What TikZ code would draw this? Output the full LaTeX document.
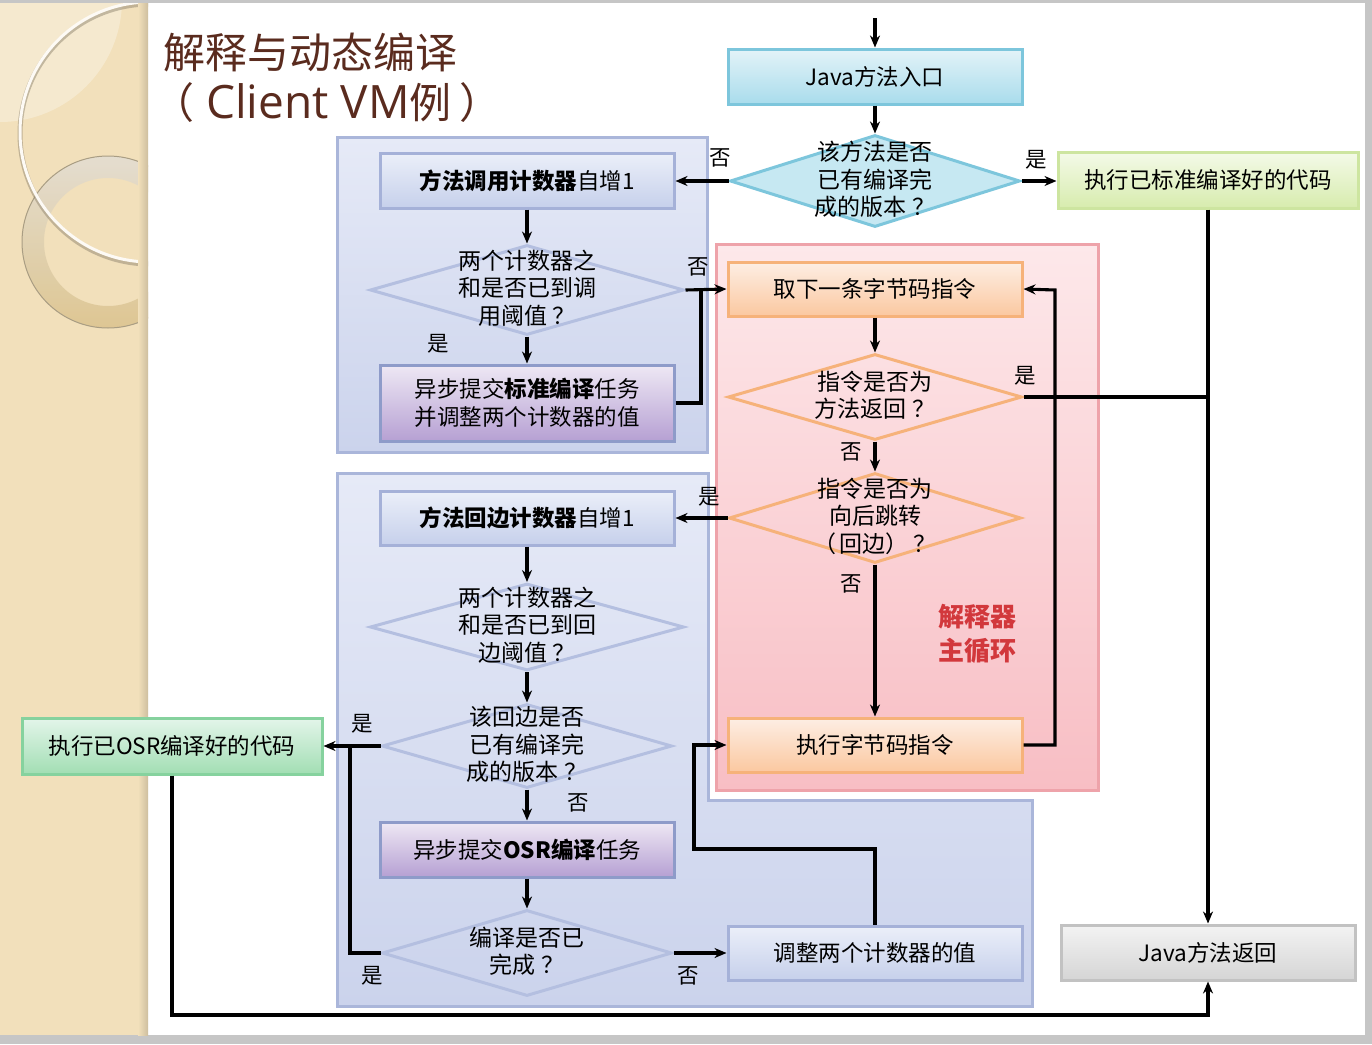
\documentclass[tikz,border=0pt]{standalone}
\usepackage{fontspec}
\setmainfont{Noto Sans CJK SC}
\newfontfamily\latinfont{Open Sans}
\usetikzlibrary{shapes.geometric,arrows.meta}
\definecolor{beige}{HTML}{F2E0BB}
\definecolor{ringtop}{HTML}{E3DDD2}
\definecolor{ringbot}{HTML}{DCC48F}
\definecolor{titlec}{HTML}{5A2B1E}
\definecolor{redt}{HTML}{D2383C}
\definecolor{pantop}{HTML}{E6EAF7}
\definecolor{panbot}{HTML}{CBD3EC}
\definecolor{panbord}{HTML}{AAB6DA}
\definecolor{btop}{HTML}{EBEFF9}
\definecolor{bbot}{HTML}{C6D0EB}
\definecolor{bbord}{HTML}{A5B1D8}
\definecolor{ptop}{HTML}{EEE8F4}
\definecolor{pbot}{HTML}{B6A0D3}
\definecolor{pbord}{HTML}{8E9BC9}
\definecolor{ctop}{HTML}{E3F3F8}
\definecolor{cbot}{HTML}{A9DCEC}
\definecolor{cbord}{HTML}{7DC6DC}
\definecolor{cdia}{HTML}{C6E8F2}
\definecolor{gtop}{HTML}{F4FAE8}
\definecolor{gbot}{HTML}{D7ECAE}
\definecolor{gbord}{HTML}{CDE5A0}
\definecolor{otop}{HTML}{E3F5EA}
\definecolor{obot}{HTML}{A2DEB3}
\definecolor{obord}{HTML}{86D29E}
\definecolor{pktop}{HTML}{FDE8EA}
\definecolor{pkbot}{HTML}{F8BEC4}
\definecolor{pkbord}{HTML}{EEA3AA}
\definecolor{ortop}{HTML}{FDEEE4}
\definecolor{orbot}{HTML}{FBC8A0}
\definecolor{orbord}{HTML}{F6B27A}
\definecolor{ddia}{HTML}{B4BFE0}
\definecolor{grtop}{HTML}{F3F3F3}
\definecolor{grbot}{HTML}{D5D5D5}
\definecolor{grbord}{HTML}{C2C2C2}
\newcommand\dtext[1]{\smash{\makebox[0pt]{\raisebox{-7.5pt}{\begin{tabular}{@{}c@{}}#1\end{tabular}}}}}
\newcommand\qm{\hspace{0.22em}？}
\tikzset{
  arr/.style={line width=3.1pt,-{Stealth[length=12pt,width=10pt]}},
  ln/.style={line width=3.1pt},
  box/.style={rectangle, line width=3pt, minimum width=294pt, minimum height=55pt,
    inner sep=0pt, font=\fontsize{22.5}{28}\selectfont, align=center},
  bluebox/.style={box, draw=bbord, top color=btop, bottom color=bbot},
  purpbox/.style={box, draw=pbord, top color=ptop, bottom color=pbot},
  orbox/.style={box, draw=orbord, top color=ortop, bottom color=orbot},
  dia/.style={diamond, line width=3pt, inner sep=0pt, font=\fontsize{23}{27}\selectfont},
  bdia/.style={dia, draw=ddia},
  odia/.style={dia, draw=orbord},
  lbl/.style={font=\fontsize{21.5}{24}\selectfont, inner sep=0pt},
  panel/.style={line width=3pt},
}
\begin{document}
\begin{tikzpicture}[x=1pt,y=-1pt]
\useasboundingbox (0,0) rectangle (1372,1044);
% slide background
\fill[gray!45] (0,0) rectangle (1372,1044);
\fill[white] (0,3) rectangle (1365,1035);
\fill[beige] (0,3) rectangle (148,1035);
\begin{scope}
  \clip (0,3) rectangle (148,1035);
  \fill[white,opacity=0.3] (0,0) circle (122);
  \shade[even odd rule, top color=ringtop, bottom color=ringbot, opacity=0.9]
    (108,242) circle (86) (108,242) circle (64);
  \draw[line width=1pt, color=black!30!beige] (108,242) circle (86);
  \draw[line width=5pt, color=black!40!beige, opacity=0.5] (150,134) circle (130);
  \draw[line width=3pt, color=white!85!beige] (150,132) circle (130);
  \shade[left color=beige, right color=black!15!beige] (138,3) rectangle (148,1035);
\end{scope}
% title
\node[anchor=west, text=titlec, font=\fontsize{42}{48}\selectfont, inner sep=0pt] (t1) at (163,52) {解释与动态编译};
\node[anchor=west, text=titlec, font=\fontsize{42}{48}\selectfont, inner sep=0pt] (t2) at (152,103) {（\hspace{12pt}{\latinfont\fontsize{46}{48}\selectfont Client VM}例\hspace{8pt}）};
% panels
\draw[panel, draw=panbord, top color=pantop, bottom color=panbot] (337,137) rectangle (707,452);
\draw[panel, draw=pkbord, top color=pktop, bottom color=pkbot] (716,244) rectangle (1098,790);
\draw[panel, draw=panbord, top color=pantop, bottom color=panbot]
  (337,473) -- (708,473) -- (708,800) -- (1032,800) -- (1032,1006) -- (337,1006) -- cycle;
\node[text=redt, font=\bfseries\fontsize{26}{34}\selectfont, align=center, inner sep=0pt] (main) at (977,634) {解释器\\主循环};
% coordinates
\coordinate (top) at (875,18);
\coordinate (j1) at (350,746);
\coordinate (k1) at (694,849);
\coordinate (k2) at (1055,290);
\coordinate (k3) at (701,290);
\coordinate (bot) at (1208,1015);
% nodes
\node[box, draw=cbord, top color=ctop, bottom color=cbot] (entry) at (875,76.5) {Java方法入口};
\node[dia, draw=cbord, fill=cdia, minimum width=290pt, minimum height=92pt] (d1) at (875,181) {\dtext{该方法是否\\已有编译完\\成的版本\qm}};
\node[box, draw=gbord, top color=gtop, bottom color=gbot, minimum width=300pt, minimum height=56pt] (g1) at (1208,180) {执行已标准编译好的代码};
\node[bluebox] (c1) at (527,180.5) {\textbf{方法调用计数器}自增1};
\node[bdia, minimum width=314pt, minimum height=90pt] (d2) at (527,290) {\dtext{两个计数器之\\和是否已到调\\用阈值\qm}};
\node[purpbox, minimum height=76pt] (b2) at (527,403) {异步提交\textbf{标准编译}任务\\并调整两个计数器的值};
\node[orbox, minimum height=54pt] (fetch) at (875,289) {取下一条字节码指令};
\node[odia, minimum width=294pt, minimum height=86pt] (d3) at (875,397) {\dtext{指令是否为\\方法返回\qm}};
\node[odia, minimum width=292pt, minimum height=90pt] (d4) at (875,518) {\dtext{指令是否为\\向后跳转\\（\hspace{0.1em}回边）\qm}};
\node[orbox, minimum height=54pt] (exec) at (875,745) {执行字节码指令};
\node[bluebox, minimum height=54pt] (c2) at (527,518) {\textbf{方法回边计数器}自增1};
\node[bdia, minimum width=314pt, minimum height=87pt] (d5) at (527,627) {\dtext{两个计数器之\\和是否已到回\\边阈值\qm}};
\node[bdia, minimum width=290pt, minimum height=84pt] (d6) at (527,746) {\dtext{该回边是否\\已有编译完\\成的版本\qm}};
\node[purpbox] (b6) at (527,849.5) {异步提交\textbf{OSR编译}任务};
\node[bdia, minimum width=290pt, minimum height=86pt] (d7) at (527,953) {\dtext{编译是否已\\完成\qm}};
\node[bluebox, minimum height=54pt] (adj) at (875,953) {调整两个计数器的值};
\node[box, draw=obord, top color=otop, bottom color=obot, minimum width=300pt, minimum height=56pt] (osr) at (172,746) {执行已OSR编译好的代码};
\node[box, draw=grbord, top color=grtop, bottom color=grbot] (ret) at (1208,952.5) {Java方法返回};
% labels
\node[lbl] (l1) at (720,158) {否};
\node[lbl] (l2) at (1036,160) {是};
\node[lbl] (l3) at (698,267) {否};
\node[lbl] (l4) at (438,344) {是};
\node[lbl] (l5) at (1025,376) {是};
\node[lbl] (l6) at (851,452) {否};
\node[lbl] (l7) at (709,497) {是};
\node[lbl] (l8) at (851,584) {否};
\node[lbl] (l9) at (362,724) {是};
\node[lbl] (l10) at (578,803) {否};
\node[lbl] (l11) at (372,976) {是};
\node[lbl] (l12) at (688,976) {否};
% connectors
\draw[arr] (top) -- (entry.north);
\draw[arr] (entry.south) -- (d1.north);
\draw[arr] (d1.west) -- (d1.west -| c1.east);
\draw[arr] (d1.east) -- (d1.east -| g1.west);
\draw[arr] (g1.south) -- (g1.south |- ret.north);
\draw[arr] (c1.south) -- (d2.north);
\draw[arr] (d2.south) -- (b2.north);
\draw[arr] (d2.east) -- (fetch.west);
\draw[ln] (b2.east) -| (k3);
\draw[arr] (fetch.south) -- (d3.north);
\draw[ln] (d3.east) -- (d3.east -| g1.south);
\draw[arr] (d3.south) -- (d4.north);
\draw[arr] (d4.west) -- (d4.west -| c2.east);
\draw[arr] (d4.south) -- (exec.north);
\draw[arr] (exec.east) -| (k2) -- (fetch.east);
\draw[arr] (c2.south) -- (d5.north);
\draw[arr] (d5.south) -- (d6.north);
\draw[arr] (d6.west) -- (osr.east);
\draw[arr] (d6.south) -- (b6.north);
\draw[arr] (b6.south) -- (d7.north);
\draw[ln] (d7.west) -| (j1);
\draw[arr] (d7.east) -- (adj.west);
\draw[arr] (adj.north) |- (k1) |- (exec.west);
\draw[arr] (osr.south) |- (bot) -- (ret.south);
\end{tikzpicture}
\end{document}
